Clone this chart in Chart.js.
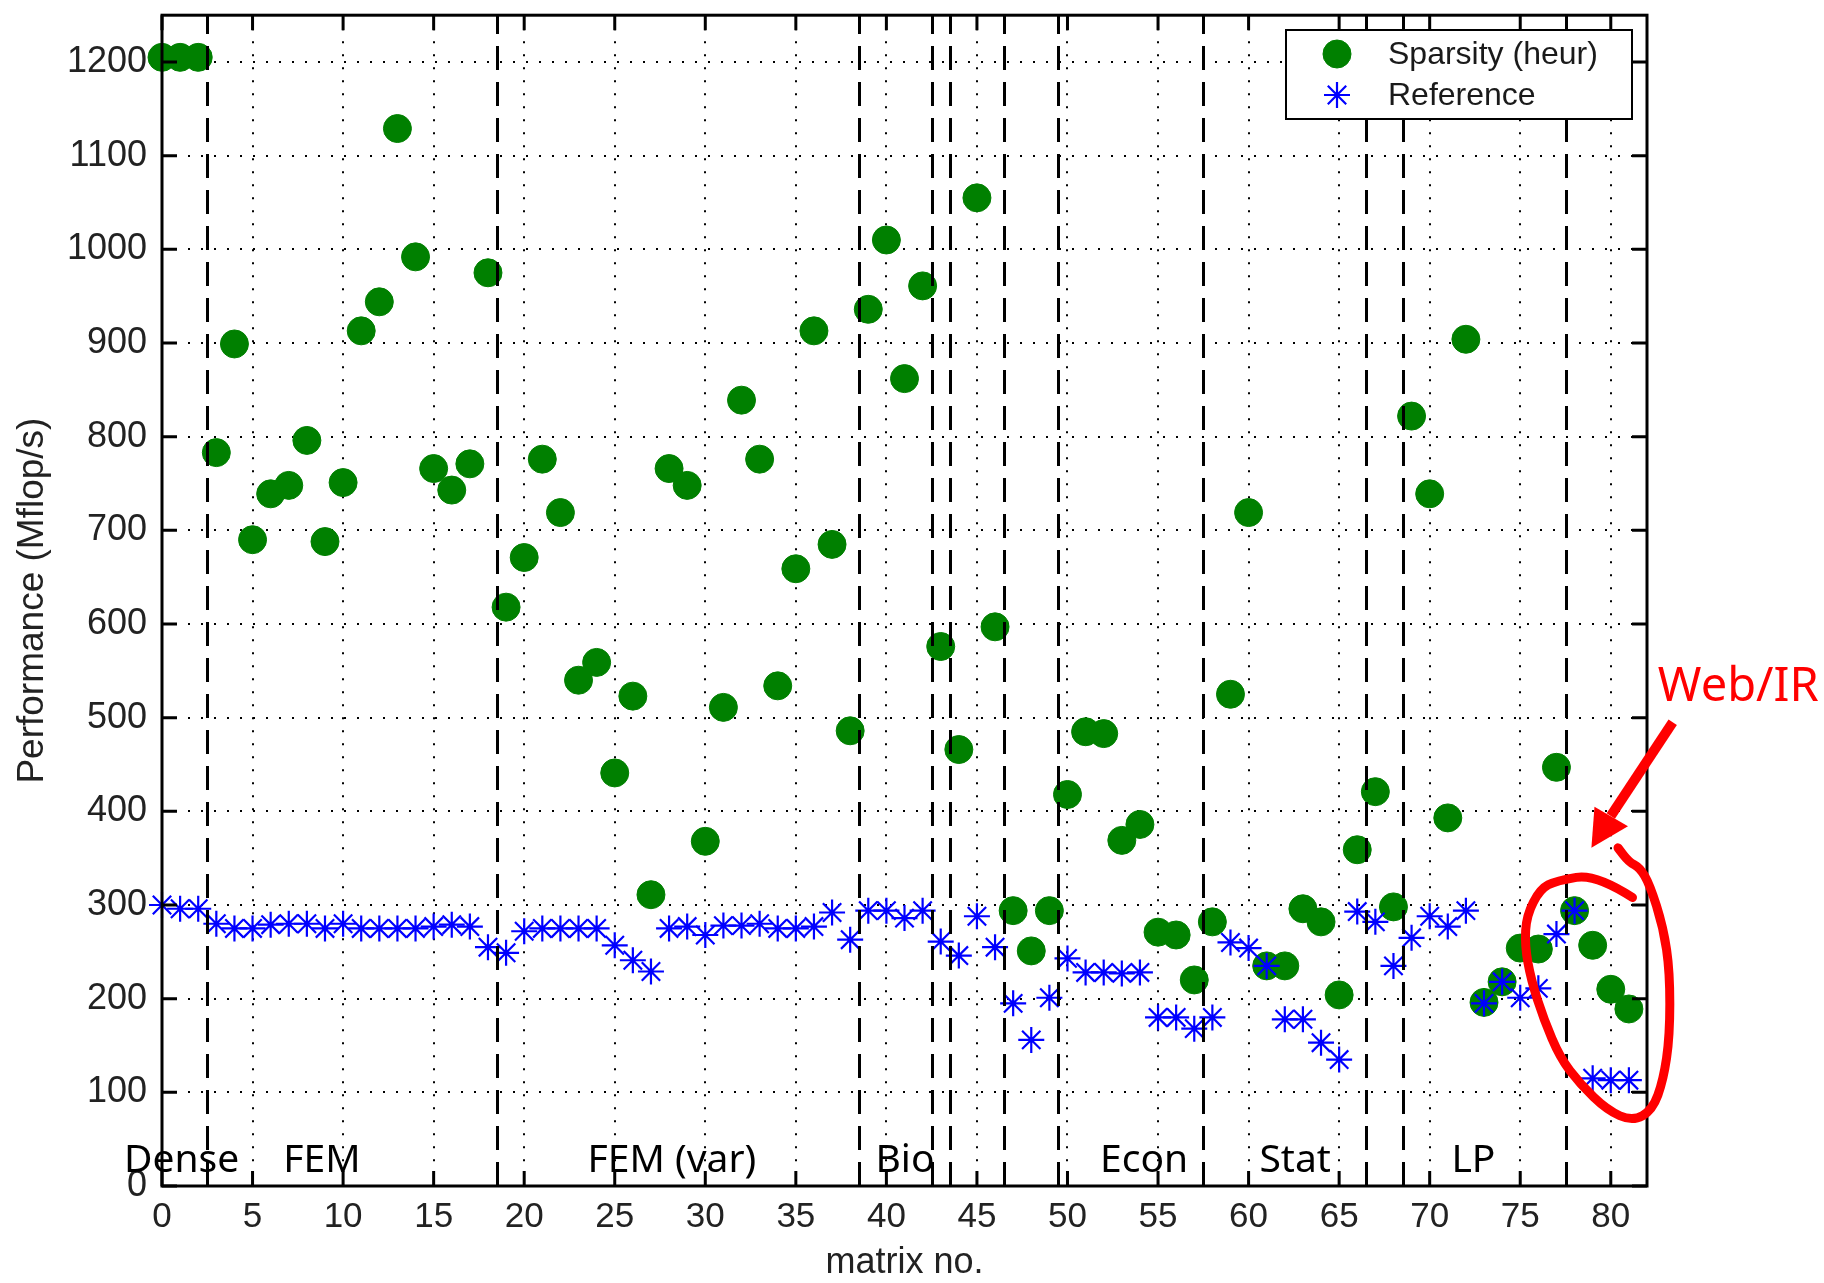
<!DOCTYPE html>
<html>
<head>
<meta charset="utf-8">
<title>Sparsity (heur) vs Reference</title>
<script src="https://cdn.jsdelivr.net/npm/chart.js@4.4.1/dist/chart.umd.min.js"></script>
<style>
  html, body { margin: 0; padding: 0; background: #fff; }
  #wrap { width: 1824px; height: 1283px; }
</style>
</head>
<body>
<div id="wrap"><canvas id="graph" width="1824" height="1283"></canvas></div>
<script>
// matrix no. 0..81
var matrices = [];
for (var i = 0; i < 82; i++) matrices.push(i);

// Mflop/s
var sparsity = [
  1205, 1205, 1205, 783, 899, 690, 739, 748, 796, 688,
  751, 913, 944, 1129, 992, 766, 743, 771, 975, 618,
  671, 776, 719, 540, 559, 441, 523, 311, 766, 748,
  368, 511, 839, 776, 534, 659, 913, 685, 486, 936,
  1010, 862, 961, 576, 466, 1055, 597, 294, 251, 294,
  418, 485, 483, 369, 386, 271, 268, 220, 282, 525,
  719, 235, 235, 296, 282, 204, 359, 421, 298, 822,
  739, 393, 904, 196, 218, 254, 253, 447, 294, 257,
  210, 189
];
var reference = [
  300, 296, 296, 280, 275, 275, 279, 280, 280, 275,
  280, 275, 275, 275, 275, 277, 279, 277, 255, 249,
  272, 275, 275, 275, 275, 257, 241, 229, 275, 277,
  268, 278, 278, 280, 275, 275, 277, 292, 263, 294,
  294, 286, 294, 261, 246, 288, 255, 195, 156, 201,
  243, 228, 228, 227, 228, 180, 180, 168, 180, 260,
  254, 235, 178, 178, 153, 135, 293, 282, 235, 265,
  288, 277, 294, 195, 218, 201, 211, 269, 294, 115,
  113, 113
];

var xTicks = [0, 5, 10, 15, 20, 25, 30, 35, 40, 45, 50, 55, 60, 65, 70, 75, 80];
var yTicks = [0, 100, 200, 300, 400, 500, 600, 700, 800, 900, 1000, 1100, 1200];

// matrix groups: names, where the name starts, and the borders between groups
var groupNames = ["Dense", "FEM", "FEM (var)", "Bio", "Econ", "Stat", "LP"];
var groupStart = [-2.1, 6.7, 23.5, 39.4, 51.8, 60.6, 71.2];
var groupBorders = [2.5, 18.5, 38.5, 42.5, 43.5, 46.5, 49.5, 57.5, 66.5, 68.5, 77.5];

function pares(ys) {
  return matrices.map(function(m, k) { return { x: m, y: ys[k] }; });
}

// hand drawn note round the Web/IR matrices, in data units (matrix no., Mflop/s)
var notaLazo = [
  [81.2, 308], [79.2, 333], [77.0, 326], [76.1, 317], [75.35, 289], [75.25, 257],
  [75.6, 220], [76.3, 178], [77.2, 137], [78.3, 109], [79.8, 81], [81.2, 69],
  [82.3, 81], [82.9, 113], [83.26, 160], [83.26, 229], [82.9, 276], [82.15, 322],
  [81.6, 340], [81.0, 346], [80.4, 361]
];

var anotar = {
  id: "anotar",
  afterDatasetsDraw: function(chart) {
    var ctx = chart.ctx, a = chart.chartArea;
    var xs = chart.scales.x, ys = chart.scales.y;
    ctx.save();

    // group borders
    ctx.strokeStyle = "#000";
    ctx.lineWidth = 3;
    ctx.setLineDash([24, 12]);
    groupBorders.forEach(function(v) {
      var px = Math.round(xs.getPixelForValue(v)) + 0.5;
      ctx.beginPath();
      ctx.moveTo(px, a.bottom);
      ctx.lineTo(px, a.top);
      ctx.stroke();
    });
    ctx.setLineDash([]);

    // axes box
    ctx.lineWidth = 3;
    ctx.strokeRect(a.left, a.top, a.right - a.left, a.bottom - a.top);

    // inward ticks on all four sides
    var tl = 15;
    ctx.lineWidth = 3;
    ctx.beginPath();
    xTicks.forEach(function(v) {
      var px = xs.getPixelForValue(v);
      ctx.moveTo(px, a.bottom); ctx.lineTo(px, a.bottom - tl);
      ctx.moveTo(px, a.top); ctx.lineTo(px, a.top + tl);
    });
    yTicks.forEach(function(v) {
      var py = ys.getPixelForValue(v);
      ctx.moveTo(a.left, py); ctx.lineTo(a.left + tl, py);
      ctx.moveTo(a.right, py); ctx.lineTo(a.right - tl, py);
    });
    ctx.stroke();

    // group names
    ctx.fillStyle = "#000";
    ctx.font = '39px "Noto Sans"';
    ctx.textAlign = "left";
    ctx.textBaseline = "alphabetic";
    groupNames.forEach(function(g, k) {
      ctx.fillText(g, xs.getPixelForValue(groupStart[k]), ys.getPixelForValue(15));
    });

    // legend box
    var lx = 1286, ly = 30, lw = 346, lh = 89;
    ctx.fillStyle = "#fff";
    ctx.fillRect(lx, ly, lw, lh);
    ctx.strokeStyle = "#000";
    ctx.lineWidth = 2;
    ctx.strokeRect(lx, ly, lw, lh);
    ctx.font = '32px "Liberation Sans"';
    ctx.textBaseline = "middle";
    chart.data.datasets.slice().sort(function(p, q) { return q.order - p.order; }).forEach(function(ds, k) {
      var cy = ly + 24 + k * 41;
      ctx.fillStyle = ds.backgroundColor;
      ctx.strokeStyle = ds.borderColor;
      ctx.lineWidth = ds.borderWidth;
      Chart.helpers.drawPoint(ctx, { pointStyle: ds.pointStyle, radius: ds.pointRadius, rotation: 0, borderWidth: ds.borderWidth }, 1337, cy);
      ctx.fillStyle = "#1a1a1a";
      ctx.fillText(ds.label, 1388, cy + 1);
    });
    ctx.restore();
  },
  afterDraw: function(chart) {
    var ctx = chart.ctx, xs = chart.scales.x, ys = chart.scales.y;
    function P(p) { return [xs.getPixelForValue(p[0]), ys.getPixelForValue(p[1])]; }
    ctx.save();
    ctx.strokeStyle = "#ff0000";
    ctx.fillStyle = "#ff0000";
    ctx.lineCap = "round";
    ctx.lineJoin = "round";

    // loop
    var pts = notaLazo.map(P);
    ctx.lineWidth = 9;
    ctx.beginPath();
    ctx.moveTo(pts[0][0], pts[0][1]);
    for (var k = 1; k < pts.length - 1; k++) {
      var mx = (pts[k][0] + pts[k + 1][0]) / 2, my = (pts[k][1] + pts[k + 1][1]) / 2;
      ctx.quadraticCurveTo(pts[k][0], pts[k][1], mx, my);
    }
    ctx.lineTo(pts[pts.length - 1][0], pts[pts.length - 1][1]);
    ctx.stroke();

    // arrow
    var s = P([83.42, 495]), b = P([80.0, 395]);
    ctx.lineWidth = 10;
    ctx.lineCap = "butt";
    ctx.beginPath();
    ctx.moveTo(s[0], s[1]);
    ctx.lineTo(b[0], b[1]);
    ctx.stroke();
    var t = P([78.93, 361]), w1 = P([79.1, 405]), w2 = P([80.95, 384]);
    ctx.beginPath();
    ctx.moveTo(t[0], t[1]);
    ctx.lineTo(w1[0], w1[1]);
    ctx.lineTo(w2[0], w2[1]);
    ctx.closePath();
    ctx.fill();

    ctx.font = '47px "Noto Sans"';
    ctx.textAlign = "left";
    ctx.textBaseline = "alphabetic";
    var wp = P([82.6, 518]);
    ctx.fillText("Web/IR", wp[0], wp[1]);
    ctx.restore();
  }
};

document.addEventListener("DOMContentLoaded", function() {
  var lienzo = document.getElementById("graph").getContext("2d");

  new Chart(lienzo, {
    type: "scatter",
    data: {
      datasets: [
        {
          label: "Sparsity (heur)",
          data: pares(sparsity),
          pointStyle: "circle",
          pointRadius: 14,
          backgroundColor: "#008000",
          borderColor: "#008000",
          borderWidth: 1,
          clip: false,
          order: 2
        },
        {
          label: "Reference",
          data: pares(reference),
          pointStyle: "star",
          pointRadius: 13,
          backgroundColor: "#0000ff",
          borderColor: "#0000ff",
          borderWidth: 2.2,
          clip: false,
          order: 1
        }
      ]
    },
    options: {
      responsive: false,
      animation: false,
      events: [],
      layout: { padding: { left: 0, right: 177, top: 10, bottom: 0 } },
      plugins: { legend: { display: false }, tooltip: { enabled: false } },
      scales: {
        x: {
          type: "linear",
          min: 0,
          max: 82,
          afterFit: function(sc) { sc.height = 97; sc.paddingLeft = 0; sc.paddingRight = 0; },
          afterBuildTicks: function(sc) { sc.ticks = xTicks.map(function(v) { return { value: v }; }); },
          ticks: {
            autoSkip: false,
            maxRotation: 0,
            padding: 10,
            color: "#222",
            font: { family: "Liberation Sans", size: 35 },
            callback: function(v) { return String(v); }
          },
          grid: { color: "#000", lineWidth: 2, drawTicks: false },
          border: { display: false, dash: [2, 11] },
          title: {
            display: true,
            text: "matrix no.",
            color: "#222",
            font: { family: "Liberation Sans", size: 36, lineHeight: 1.1 },
            padding: { top: 0, bottom: 0 }
          }
        },
        y: {
          type: "linear",
          min: 0,
          max: 1250,
          afterFit: function(sc) { sc.width = 162; sc.paddingTop = 0; sc.paddingBottom = 0; },
          afterBuildTicks: function(sc) { sc.ticks = yTicks.map(function(v) { return { value: v }; }); },
          ticks: {
            padding: 15,
            color: "#222",
            font: { family: "Liberation Sans", size: 36 },
            callback: function(v) { return String(v); }
          },
          grid: { color: "#000", lineWidth: 2, drawTicks: false },
          border: { display: false, dash: [2, 11] },
          title: {
            display: true,
            text: "Performance (Mflop/s)",
            color: "#222",
            font: { family: "Liberation Sans", size: 37, lineHeight: 1.2 },
            padding: { top: 11, bottom: 0 }
          }
        }
      }
    },
    plugins: [anotar]
  });
});
</script>
</body>
</html>
